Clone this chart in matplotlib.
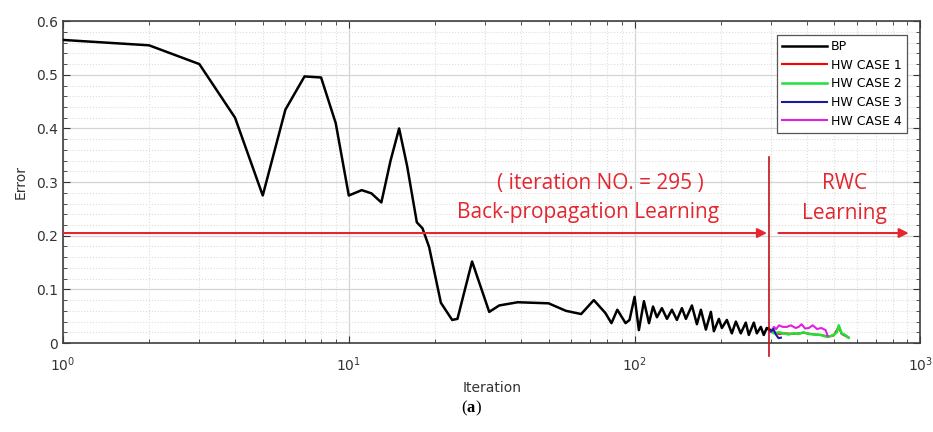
import matplotlib.pyplot as plt
from matplotlib.ticker import MultipleLocator, LogLocator, NullFormatter, FormatStrFormatter

# BP curve (iteration, error)
bp_iter = [1, 2, 3, 4, 5, 6, 7, 8, 9, 10, 11.1, 12, 13, 14, 15, 16, 17.3, 18.1, 19.1,
           21, 23, 24, 27, 31, 33.6, 39, 50, 57.5, 65, 72, 79, 83, 87, 93, 96, 100,
           103.5, 107.8, 112.3, 116, 119.7, 124.6, 129.8, 135.1, 140.6, 146.4, 151.2,
           158.7, 165.2, 170.6, 177.6, 184.9, 189.4, 197.2, 202, 210.3, 218.9, 226.1,
           235.3, 244.9, 251, 261.3, 267.7, 276.4, 283.1, 290, 295]
bp_err = [0.565, 0.555, 0.52, 0.42, 0.275, 0.435, 0.497, 0.495, 0.41, 0.275, 0.285,
          0.279, 0.262, 0.34, 0.4, 0.33, 0.225, 0.214, 0.179,
          0.075, 0.043, 0.045, 0.152, 0.058, 0.07, 0.076, 0.074, 0.06, 0.054, 0.08,
          0.056, 0.037, 0.062, 0.037, 0.043, 0.086,
          0.024, 0.078, 0.037, 0.068, 0.048, 0.065, 0.045, 0.062, 0.043, 0.065, 0.045,
          0.07, 0.035, 0.062, 0.025, 0.058, 0.022, 0.045, 0.028, 0.043, 0.018, 0.04,
          0.018, 0.038, 0.015, 0.038, 0.018, 0.03, 0.015, 0.028, 0.025]

case1_iter = [295, 307, 320, 333, 360, 390, 424, 448, 478, 497, 518, 530, 561]
case1_err = [0.025, 0.02, 0.017, 0.018, 0.017, 0.019, 0.016, 0.015, 0.012, 0.014, 0.03, 0.017, 0.01]

case2_iter = [295, 307, 320, 333, 345, 360, 375, 390, 406, 424, 448, 466, 478, 497, 510, 518, 530, 545, 561]
case2_err = [0.025, 0.018, 0.02, 0.018, 0.016, 0.018, 0.017, 0.02, 0.017, 0.016, 0.015, 0.012, 0.012, 0.015, 0.02, 0.033, 0.018, 0.015, 0.01]

case3_iter = [295, 300, 306, 312, 319, 325]
case3_err = [0.028, 0.022, 0.026, 0.016, 0.009, 0.01]

case4_iter = [295, 300, 307, 313, 320, 330, 341, 352, 366, 375, 384, 395, 407, 420, 435, 450, 466, 474]
case4_err = [0.025, 0.02, 0.03, 0.026, 0.033, 0.03, 0.03, 0.033, 0.028, 0.03, 0.035, 0.027, 0.028, 0.033, 0.026, 0.028, 0.024, 0.013]

split_iter = 295
arrow_err = 0.205

red = '#e3262f'

fig = plt.figure(figsize=(9.33, 4.32), dpi=100)
ax = fig.add_axes([0.0675, 0.206, 0.919, 0.745])

ax.plot(case1_iter, case1_err, color='red', lw=1.5, label='HW CASE 1', zorder=3)
ax.plot(case2_iter, case2_err, color='#22e03a', lw=1.8, label='HW CASE 2', zorder=4)
ax.plot(case4_iter, case4_err, color='#e020e0', lw=1.5, label='HW CASE 4', zorder=5)
ax.plot(case3_iter, case3_err, color='#1a1aa0', lw=1.5, label='HW CASE 3', zorder=6)
ax.plot(bp_iter, bp_err, color='black', lw=1.8, label='BP', zorder=7)

ax.set_xscale('log')
ax.set_xlim(1, 1000)
ax.set_ylim(0, 0.6)
ax.yaxis.set_major_locator(MultipleLocator(0.1))
ax.yaxis.set_minor_locator(MultipleLocator(0.02))
ax.yaxis.set_major_formatter(FormatStrFormatter('%g'))
ax.xaxis.set_minor_locator(LogLocator(base=10, subs=range(2, 10)))
ax.xaxis.set_minor_formatter(NullFormatter())

ax.grid(which='major', color='#d4d4d4', lw=0.9, ls='-')
ax.grid(which='minor', color='#dddddd', lw=0.8, ls=':')
ax.tick_params(which='both', direction='in', top=True, right=True, colors='#333333',
               labelsize=10, labelcolor='#333333')
ax.tick_params(which='major', length=5)
ax.tick_params(which='minor', length=3)
ax.tick_params(axis='x', which='major', pad=9)
for s in ax.spines.values():
    s.set_color('#404040')
    s.set_linewidth(1.2)

ax.set_xlabel('Iteration', fontsize=10, color='#333333', labelpad=5)
ax.set_ylabel('Error', fontsize=10, color='#333333', labelpad=6)

# red split line and arrows
ax.plot([split_iter, split_iter], [-0.025, 0.347], color='#c0101a', lw=1.2,
        clip_on=False, zorder=8)
ax.annotate('', xy=(split_iter * 0.985, arrow_err), xytext=(1, arrow_err),
            arrowprops=dict(arrowstyle='-|>', color=red, lw=1.5, mutation_scale=14,
                            shrinkA=0, shrinkB=0), zorder=8)
ax.annotate('', xy=(910, arrow_err), xytext=(split_iter * 1.08, arrow_err),
            arrowprops=dict(arrowstyle='-|>', color=red, lw=1.5, mutation_scale=14,
                            shrinkA=0, shrinkB=0), zorder=8)

ax.text(76, 0.297, '( iteration NO. = 295 )', color=red, fontsize=15,
        family='Open Sans', ha='center', va='center')
ax.text(69, 0.244, 'Back-propagation Learning', color=red, fontsize=15,
        family='Open Sans', ha='center', va='center')
ax.text(543, 0.297, 'RWC', color=red, fontsize=15, family='Open Sans',
        ha='center', va='center')
ax.text(543, 0.241, 'Learning', color=red, fontsize=15, family='Open Sans',
        ha='center', va='center')

handles, labels = ax.get_legend_handles_labels()
order = [4, 0, 1, 3, 2]
leg = ax.legend([handles[i] for i in order], [labels[i] for i in order],
                loc='upper right', bbox_to_anchor=(0.984, 0.957), borderaxespad=0,
                fontsize=9, fancybox=False, framealpha=1, edgecolor='#555555',
                handlelength=3.6, labelspacing=0.45, borderpad=0.4, handletextpad=0.3)
leg.get_frame().set_linewidth(0.9)

fig.text(0.5, 0.055, '(', fontsize=12, family='Liberation Serif', ha='right', va='center')
fig.text(0.5, 0.055, 'a', fontsize=12, family='Liberation Serif', fontweight='bold',
         ha='left', va='center')
fig.text(0.5093, 0.055, ')', fontsize=12, family='Liberation Serif', ha='left', va='center')

fig.savefig('out.png', dpi=100)
